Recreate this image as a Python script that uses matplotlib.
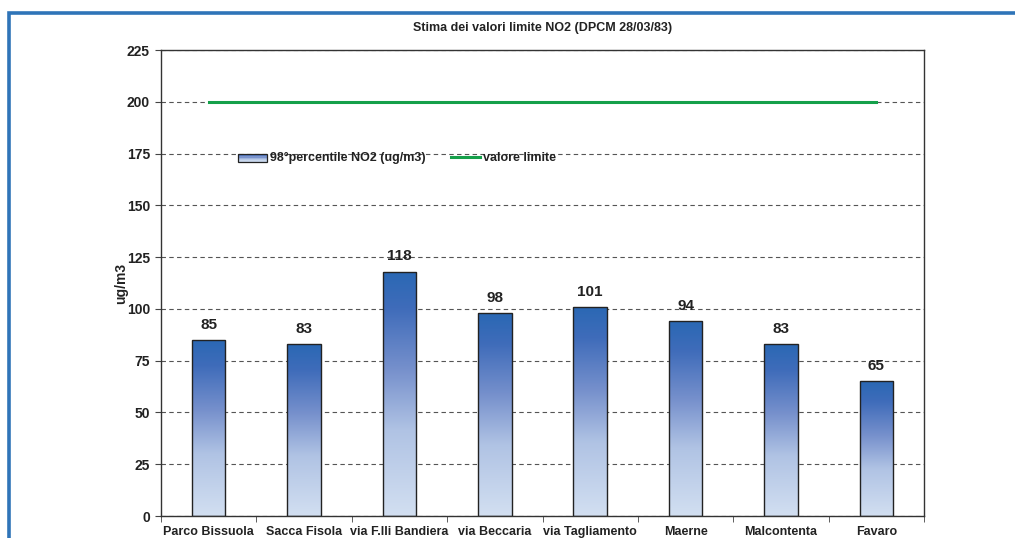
import numpy as np
import matplotlib
matplotlib.use("Agg")
import matplotlib.pyplot as plt
from matplotlib.patches import Rectangle
from matplotlib.lines import Line2D
from matplotlib.colors import LinearSegmentedColormap
from matplotlib.legend_handler import HandlerBase

plt.rcParams['font.family'] = ['Liberation Sans', 'DejaVu Sans']

stations = ["Parco Bissuola", "Sacca Fisola", "via F.lli Bandiera", "via Beccaria",
            "via Tagliamento", "Maerne", "Malcontenta", "Favaro"]
no2_p98 = [85, 83, 118, 98, 101, 94, 83, 65]
limit_value = 200
yticks = [0, 25, 50, 75, 100, 125, 150, 175, 200, 225]

title = "Stima dei valori limite NO2 (DPCM 28/03/83)"
bar_label = "98°percentile NO2 (ug/m3)"
limit_label = "valore limite"

grad_cmap = LinearSegmentedColormap.from_list(
    "blu", [(0.0, "#d2dff1"), (0.35, "#b0c3e4"), (0.6, "#7690cc"),
            (0.85, "#3f6cba"), (1.0, "#2a68b4")])

fig = plt.figure(figsize=(10.15, 5.38), dpi=100)
ax = fig.add_axes([161 / 1015, 1 - 516 / 538, (924 - 161) / 1015, (516 - 50) / 538])

# outer blue frame
fig.add_artist(Rectangle((9 / 1015, -0.05), 1.2, (538 - 13) / 538 + 0.05,
                         transform=fig.transFigure, fill=False,
                         edgecolor="#2f74b8", linewidth=2.6, zorder=0))

x = np.arange(len(stations))
bars = ax.bar(x, no2_p98, width=0.35, facecolor="none", edgecolor="#222222",
              linewidth=1.0, zorder=3)

grad = np.linspace(0, 1, 256).reshape(-1, 1)
for b in bars:
    x0, w, h = b.get_x(), b.get_width(), b.get_height()
    im = ax.imshow(grad, cmap=grad_cmap, origin="lower", aspect="auto",
                   extent=(x0, x0 + w, 0, h), zorder=2, interpolation="bilinear")
    im.set_clip_path(b)
    ax.text(x0 + w / 2, h + 4, f"{int(h)}", ha="center", va="bottom",
            fontsize=11, fontweight="bold", color="#222222", zorder=4)

ax.plot([x[0], x[-1]], [limit_value, limit_value], color="#15a04a",
        linewidth=2.2, zorder=3)

ax.set_xlim(-0.5, len(stations) - 0.5)
ax.set_ylim(0, 225)
ax.set_yticks(yticks)
ax.set_yticklabels([str(v) for v in yticks], fontsize=10, fontweight="bold",
                   color="#222222")
ax.set_xticks(x)
ax.set_xticklabels(stations, fontsize=9, fontweight="bold", color="#222222")
ax.tick_params(axis="x", length=0, pad=7)
ax.set_xticks(np.arange(-0.5, len(stations)), minor=True)
ax.tick_params(axis="x", which="minor", length=4, direction="out", color="#444444")
ax.tick_params(axis="y", length=4, direction="out", color="#444444", pad=4)
ax.yaxis.grid(True, linestyle=(0, (4, 3)), color="#555555", linewidth=0.8)
ax.set_axisbelow(True)
for s in ax.spines.values():
    s.set_color("#333333")
    s.set_linewidth(1.0)

ax.set_ylabel("ug/m3", fontsize=10, fontweight="bold", color="#222222", labelpad=-1)
fig.text((161 + 924) / 2 / 1015, 1 - 28 / 538, title, ha="center", va="center",
         fontsize=9, fontweight="bold", color="#222222")


class GradientHandler(HandlerBase):
    def create_artists(self, legend, orig_handle, xdescent, ydescent, width, height,
                       fontsize, trans):
        artists = []
        n = 6
        cols = grad_cmap(np.linspace(0.1, 0.9, n))
        for i in range(n):
            r = Rectangle((xdescent, ydescent + i * height / n), width, height / n,
                          facecolor=cols[i], edgecolor="none", transform=trans)
            artists.append(r)
        artists.append(Rectangle((xdescent, ydescent), width, height, fill=False,
                                 edgecolor="#222222", linewidth=0.9, transform=trans))
        return artists


bar_handle = Rectangle((0, 0), 1, 1)
line_handle = Line2D([], [], color="#15a04a", linewidth=2.2)
leg = ax.legend([bar_handle, line_handle], [bar_label, limit_label],
                handler_map={Rectangle: GradientHandler()},
                loc="center left", bbox_to_anchor=(0.086, 0.768), ncol=2,
                frameon=False, prop={"weight": "bold", "size": 9},
                handlelength=2.3, handletextpad=0.3, columnspacing=2.0,
                handleheight=0.6)
for t in leg.get_texts():
    t.set_color("#222222")

fig.savefig("out.png", dpi=100)
